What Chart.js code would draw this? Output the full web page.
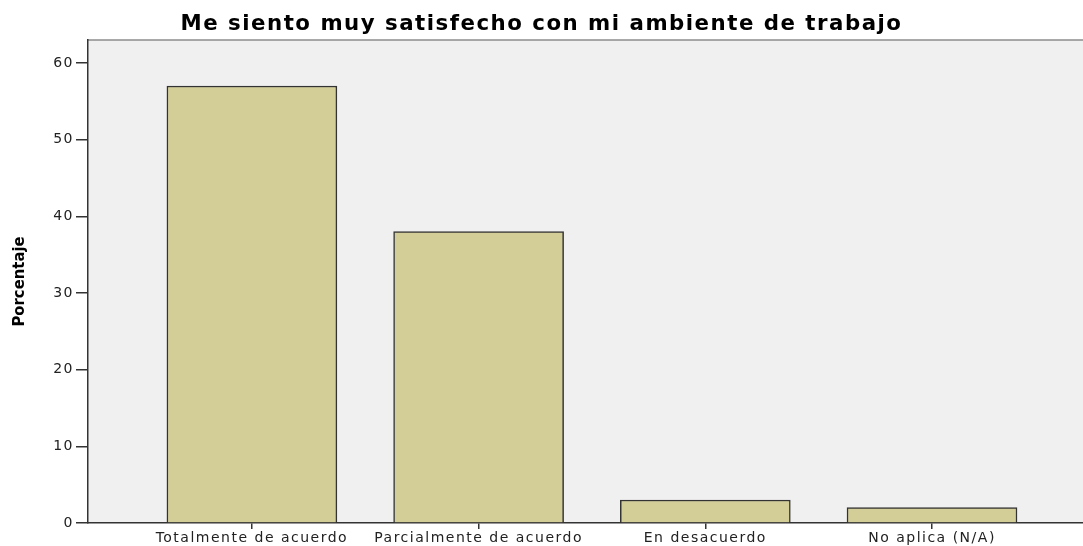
<!DOCTYPE html>
<html lang="es">
<head>
    <meta charset="UTF-8">
    <title>Me siento muy satisfecho con mi ambiente de trabajo</title>
    <script src="https://cdn.jsdelivr.net/npm/chart.js@4.4.1/dist/chart.umd.min.js"></script>
    <style>
        html, body { margin: 0; padding: 0; background: #fff; }
        #wrap { position: relative; width: 1083px; height: 546px; }
    </style>
</head>
<body>
    <div id="wrap"><canvas id="chart"></canvas></div>
    <script>
        // Datos
        const categorias = ['Totalmente de acuerdo', 'Parcialmente de acuerdo', 'En desacuerdo', 'No aplica (N/A)'];
        const porcentajes = [57, 38, 3, 2];
        const ticksY = [0, 10, 20, 30, 40, 50, 60];
        const titulo = 'Me siento muy satisfecho con mi ambiente de trabajo';
        const tituloY = 'Porcentaje';

        const fuente = "'DejaVu Sans', Arial, sans-serif";

        // Fondo gris del área del gráfico, borde superior y texto algo más espaciado
        const fondoArea = {
            id: 'fondoArea',
            afterLayout(chart) {
                // el título del eje Y va sin espaciado extra (fuente estrecha)
                const y = chart.scales.y;
                if (y && !y._sinEspacio) {
                    const orig = y.drawTitle.bind(y);
                    y.drawTitle = function () {
                        const c = this.ctx;
                        const ls = c.letterSpacing;
                        c.letterSpacing = '0px';
                        orig();
                        c.letterSpacing = ls;
                    };
                    y._sinEspacio = true;
                }
            },
            beforeDraw(chart) {
                const { ctx, chartArea: a } = chart;
                ctx.save();
                ctx.fillStyle = '#f0f0f0';
                ctx.fillRect(a.left, a.top, a.right - a.left, a.bottom - a.top);
                ctx.strokeStyle = '#8c8c8c';
                ctx.lineWidth = 1.5;
                ctx.beginPath();
                ctx.moveTo(a.left, a.top);
                ctx.lineTo(a.right, a.top);
                ctx.stroke();
                ctx.restore();
                ctx.letterSpacing = '1.5px';
            }
        };

        const ctx = document.getElementById('chart').getContext('2d');
        new Chart(ctx, {
            type: 'bar',
            data: {
                datasets: [{
                    label: tituloY,
                    data: porcentajes.map((v, i) => ({ x: i, y: v })),
                    backgroundColor: '#d3ce98',
                    borderColor: '#333333',
                    borderWidth: 1.5,
                    borderSkipped: 'bottom',
                    barThickness: 170
                }]
            },
            options: {
                responsive: true,
                maintainAspectRatio: false,
                animation: false,
                layout: { padding: 0 },
                plugins: {
                    legend: { display: false },
                    tooltip: { enabled: false },
                    title: {
                        display: true,
                        text: titulo,
                        color: '#000',
                        font: { family: fuente, size: 21.3, weight: 'bold' },
                        padding: { top: 12, bottom: 2.4 }
                    }
                },
                scales: {
                    x: {
                        type: 'linear',
                        min: -0.723,
                        max: 3.666,
                        offset: false,
                        afterBuildTicks: s => { s.ticks = categorias.map((c, i) => ({ value: i })); },
                        afterFit: s => { s.height = 23; },
                        ticks: {
                            autoSkip: false,
                            maxRotation: 0,
                            padding: 1,
                            color: '#222',
                            font: { family: fuente, size: 14 },
                            callback: v => categorias[v]
                        },
                        grid: { offset: false, drawOnChartArea: false, drawTicks: true, tickLength: 6, color: '#333', lineWidth: 1.5 },
                        border: { display: true, color: '#333', width: 1.5 }
                    },
                    y: {
                        min: 0,
                        max: 63,
                        afterBuildTicks: s => { s.ticks = ticksY.map(v => ({ value: v })); },
                        afterFit: s => { s.width = 88; },
                        ticks: {
                            padding: 2,
                            color: '#222',
                            font: { family: fuente, size: 14 }
                        },
                        grid: { drawOnChartArea: false, drawTicks: true, tickLength: 12, color: '#333', lineWidth: 1.5 },
                        border: { display: true, color: '#333', width: 1.5 },
                        title: {
                            display: true,
                            text: tituloY,
                            color: '#000',
                            font: { family: "'Liberation Sans Narrow', 'DejaVu Sans Condensed', Arial, sans-serif", size: 16.5, weight: 'bold' },
                            padding: { top: 10, bottom: 0 }
                        }
                    }
                }
            },
            plugins: [fondoArea]
        });
    </script>
</body>
</html>
